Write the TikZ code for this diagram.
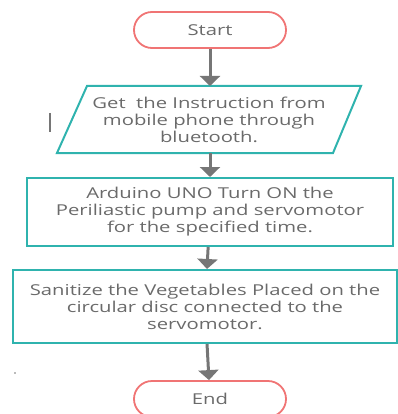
\documentclass[tikz,border=0pt]{standalone}
\usepackage{fontspec}
\setmainfont{Open Sans}
\newfontfamily\widefont[FakeStretch=1.35]{Open Sans}
\usetikzlibrary{shapes.geometric,arrows.meta}
\definecolor{tealc}{HTML}{2FB3AE}
\definecolor{redc}{HTML}{F07474}
\definecolor{txtc}{HTML}{6A6A6A}
\definecolor{arrc}{HTML}{767676}
\tikzset{
  term/.style={draw=redc,line width=1.8pt,rounded corners=18pt,minimum width=152pt,minimum height=36pt,font=\widefont\fontsize{15}{17}\selectfont,text=txtc},
  procbox/.style={draw=tealc,line width=2pt,align=center,font=\widefont\fontsize{15}{17}\selectfont,text=txtc},
  flow/.style={draw=arrc,line width=3pt,-{Triangle[width=20pt,length=10pt]}},
}
\begin{document}
\begin{tikzpicture}[x=1pt,y=-1pt]
\useasboundingbox (0,0) rectangle (397,414);
\node[term] (start) at (210,30) {Start};
\node[procbox,draw=none,minimum width=240pt,minimum height=67pt] (inp) at (209,119.5) {Get\ \ the Instruction from\\mobile phone through\\bluetooth.};
\draw[tealc,line width=2pt] (87,86) -- (361,86) -- (333,153) -- (57,153) -- cycle;
\coordinate (inpT) at (210,86);
\coordinate (inpB) at (210,153);
\node[procbox,minimum width=366pt,minimum height=68pt] (ard) at (210,212) {Arduino UNO Turn ON the\\Periliastic pump and servomotor\\for the specified time.};
\node[procbox,minimum width=384pt,minimum height=73pt] (san) at (205,306.5) {Sanitize the Vegetables Placed on the\\circular disc connected to the\\servomotor.};
\node[term] (end) at (210,399) {End};
\draw[flow] (start) -- (inpT);
\draw[flow] (inpB) -- (ard);
\draw[flow] (ard) -- (san);
\draw[flow] (san) -- (end);
\draw[arrc,line width=1.5pt] (50,113) -- (50,132);
\fill[arrc] (15,373) circle (0.8pt);
\end{tikzpicture}
\end{document}
